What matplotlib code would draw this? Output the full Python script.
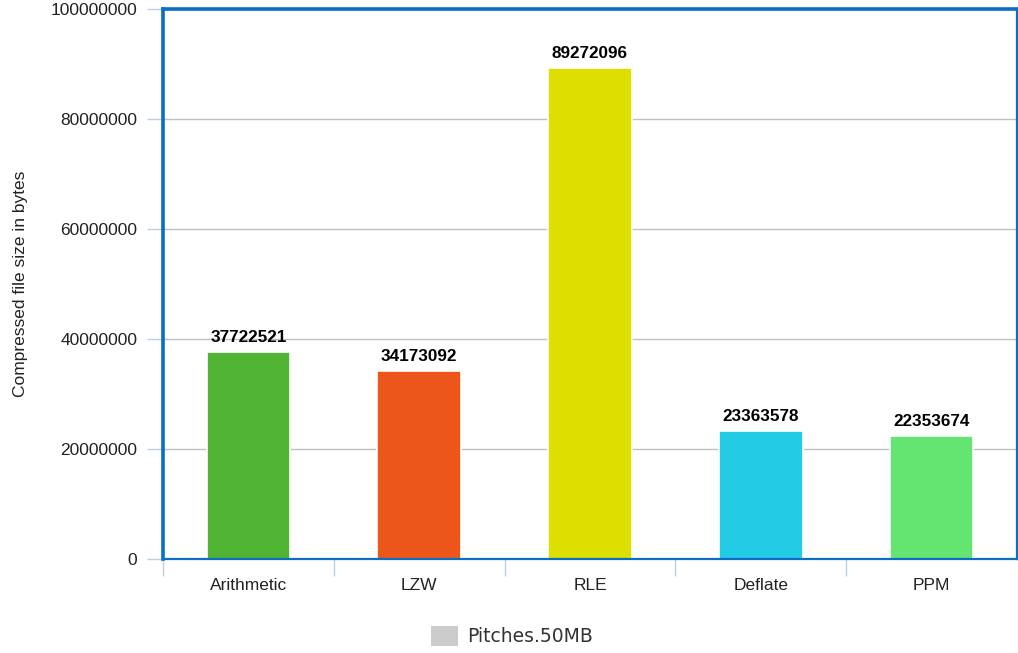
import matplotlib
matplotlib.use("Agg")
import matplotlib.pyplot as plt
from matplotlib.patches import Patch
from matplotlib.ticker import FixedLocator, NullFormatter

# Compressed sizes per algorithm for the Pitches.50MB file
algorithms = ["Arithmetic", "LZW", "RLE", "Deflate", "PPM"]
sizes = [37722521, 34173092, 89272096, 23363578, 22353674]
bar_colors = ["#50B432", "#ED561B", "#DDDF00", "#24CBE5", "#64E572"]
y_ticks = [0, 20000000, 40000000, 60000000, 80000000, 100000000]
series_name = "Pitches.50MB"

plt.rcParams["font.family"] = ["Liberation Sans", "DejaVu Sans"]

fig = plt.figure(figsize=(10.18, 6.53), dpi=100)
ax = fig.add_axes([163 / 1018, 94 / 653, 854 / 1018, 550 / 653])

x = list(range(len(algorithms)))
bars = ax.bar(x, sizes, width=0.49, color=bar_colors, edgecolor="white",
              linewidth=1.2, zorder=3)

for xi, v in zip(x, sizes):
    ax.annotate(str(v), (xi, v), xytext=(0, 5), textcoords="offset points",
                ha="center", va="bottom", fontsize=12.3, fontweight="bold",
                color="black", zorder=4)

ax.set_xlim(-0.5, len(algorithms) - 0.5)
ax.set_ylim(0, 100000000)

# y axis: ticks, labels, grid
ax.set_yticks(y_ticks)
ax.set_yticklabels([str(t) for t in y_ticks])
ax.yaxis.grid(True, color="#C0C0C0", linewidth=1, zorder=0)
ax.tick_params(axis="y", length=11.5, width=1, color="#C0D0E0", pad=7,
               labelsize=12.5, labelcolor="#222222")

# x axis: category labels centred, tick marks between categories
ax.set_xticks(x)
ax.set_xticklabels(algorithms)
ax.tick_params(axis="x", which="major", length=0, pad=14, labelsize=12.5,
               labelcolor="#222222")
ax.xaxis.set_minor_locator(FixedLocator([i - 0.5 for i in range(len(algorithms))]))
ax.xaxis.set_minor_formatter(NullFormatter())
ax.tick_params(axis="x", which="minor", length=12, width=1, color="#C0D0E0")

ax.set_ylabel("Compressed file size in bytes", fontsize=12.5, color="#222222",
              labelpad=16)

spine_blue = "#0A6EC4"
ax.spines["left"].set_color(spine_blue)
ax.spines["left"].set_linewidth(2.6)
ax.spines["top"].set_color(spine_blue)
ax.spines["top"].set_linewidth(2.6)
ax.spines["right"].set_color(spine_blue)
ax.spines["right"].set_linewidth(1.6)
ax.spines["bottom"].set_color(spine_blue)
ax.spines["bottom"].set_linewidth(1.6)
for s in ax.spines.values():
    s.set_zorder(5)

legend_handle = Patch(facecolor="#CCCCCC", edgecolor="none")
fig.legend([legend_handle], [series_name], loc="center",
           bbox_to_anchor=(512 / 1018, 1 - 636 / 653), frameon=False,
           handlelength=1.45, handleheight=1.3, handletextpad=0.45,
           prop={"family": "DejaVu Sans", "size": 13.5}, labelcolor="#333333")

fig.savefig("out.png", dpi=100)
